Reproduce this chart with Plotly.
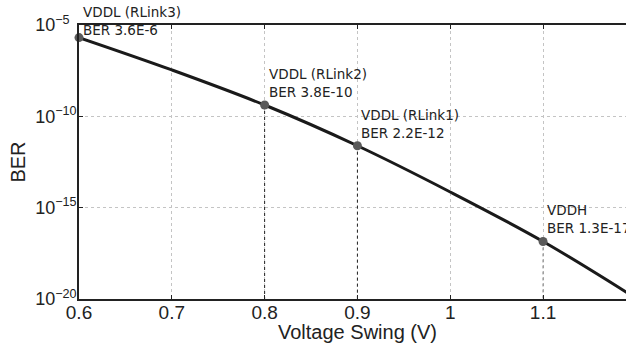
import math
import plotly.graph_objects as go

# Curve
voltage = [0.6, 0.7, 0.8, 0.9, 1.0, 1.1, 1.2]
ber = [2.04e-6, 3.47e-8, 4.17e-10, 2.45e-12, 7.24e-15, 1.41e-17, 1.12e-20]

# Marked operating points
mark_v = [0.6, 0.8, 0.9, 1.1]
mark_ber = [2.04e-6, 4.17e-10, 2.45e-12, 1.41e-17]
mark_text = ["VDDL (RLink3)<br>BER 3.6E-6", "VDDL (RLink2)<br>BER 3.8E-10",
             "VDDL (RLink1)<br>BER 2.2E-12", "VDDH<br>BER 1.3E-17"]
drop_colors = [None, "#222222", "#222222", "#808080"]

y_tickvals = [1e-20, 1e-15, 1e-10, 1e-5]
y_ticktext = ["10<sup>−20</sup>", "10<sup>−15</sup>", "10<sup>−10</sup>", "10<sup>−5\u2007</sup>"]
x_tickvals = [0.6, 0.7, 0.8, 0.9, 1.0, 1.1]
x_ticktext = ["0.6", "0.7", "0.8", "0.9", "1", "1.1"]
x_title = "Voltage Swing (V)"
y_title = "BER"

fig = go.Figure()

for v, b, c in zip(mark_v, mark_ber, drop_colors):
    if c is None:
        continue
    fig.add_trace(go.Scatter(x=[v, v], y=[b, 1e-20], mode="lines",
                             line=dict(color=c, width=1, dash="dot"),
                             showlegend=False, hoverinfo="skip"))

fig.add_trace(go.Scatter(x=voltage, y=ber, mode="lines",
                         line=dict(color="#1a1a1a", width=3, shape="spline"),
                         showlegend=False))

fig.add_trace(go.Scatter(x=mark_v, y=mark_ber, mode="markers",
                         marker=dict(color="#5a5a5a", size=9),
                         showlegend=False, cliponaxis=False))

for v, b, t in zip(mark_v, mark_ber, mark_text):
    fig.add_annotation(x=v, y=math.log10(b), yref="y", xref="x", text=t, showarrow=False,
                       xanchor="left", yanchor="bottom", align="left",
                       xshift=2, yshift=3 if v != 0.6 else -2,
                       font=dict(family="DejaVu Sans", size=13.5, color="#222222"))

# x-axis title, centred under the full [0.6, 1.2] axis
fig.add_annotation(x=0.9, y=0, xref="x", yref="paper", text=x_title, showarrow=False,
                   xanchor="center", yanchor="top", yshift=-20,
                   font=dict(family="Liberation Sans", size=20, color="#222222"))

fig.update_xaxes(range=[0.6, 1.1894], tickvals=x_tickvals, ticktext=x_ticktext,
                 showline=True, linecolor="#222222", linewidth=1.5, mirror="ticks",
                 ticks="inside", ticklen=4, tickcolor="#222222",
                 showgrid=True, gridcolor="#c4c4c4", griddash="dot", gridwidth=1,
                 zeroline=False, ticklabelstandoff=-5,
                 tickfont=dict(family="Liberation Sans", size=19, color="#222222"))
fig.update_yaxes(type="log", range=[-20, -5], tickvals=y_tickvals, ticktext=y_ticktext,
                 showline=True, linecolor="#222222", linewidth=1.5, mirror=False,
                 ticks="inside", ticklen=4, tickcolor="#222222",
                 showgrid=True, gridcolor="#c4c4c4", griddash="dot", gridwidth=1,
                 zeroline=False, ticklabelstandoff=-3,
                 tickfont=dict(family="Liberation Sans", size=18, color="#222222"),
                 title=dict(text=y_title, standoff=4,
                            font=dict(family="Liberation Sans", size=20, color="#222222")))

fig.update_layout(width=626, height=348, margin=dict(l=79, r=0, t=25, b=49),
                  plot_bgcolor="white", paper_bgcolor="white")

fig.write_html("out.html")
